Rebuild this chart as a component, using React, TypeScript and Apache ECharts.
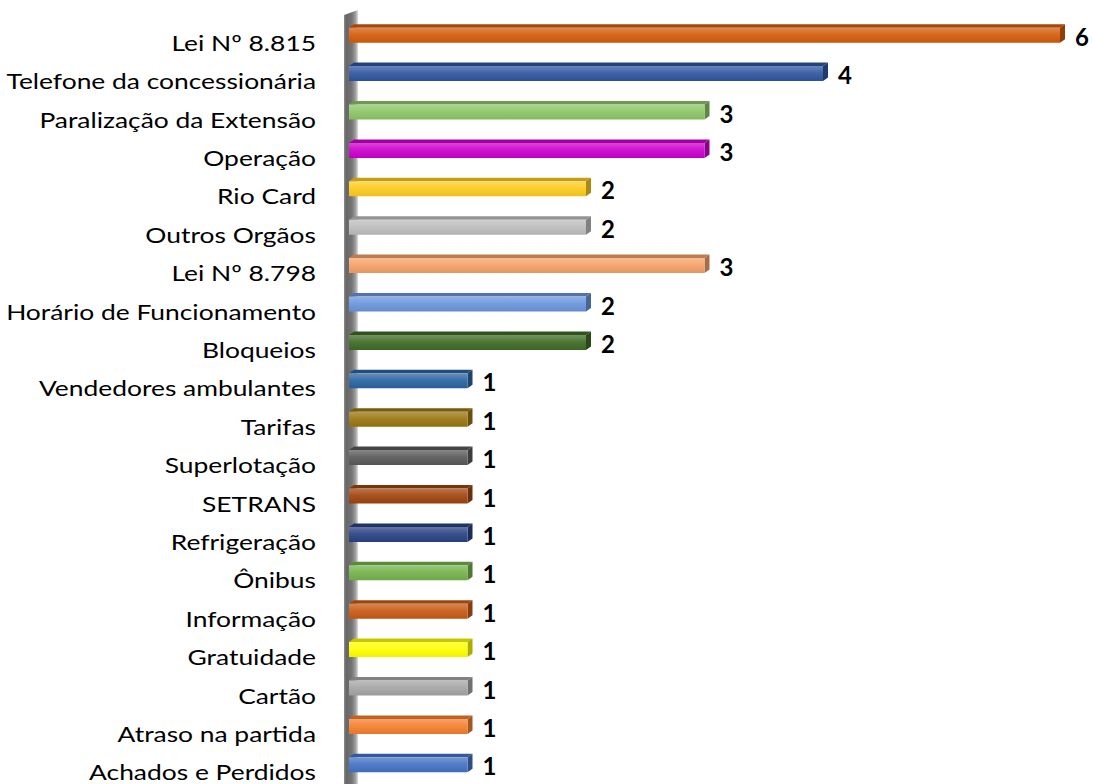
import React, { useEffect, useRef } from "react";
import * as echarts from "echarts";

const categories = [
  "Lei Nº 8.815",
  "Telefone da concessionária",
  "Paralização da Extensão",
  "Operação",
  "Rio Card",
  "Outros Orgãos",
  "Lei Nº 8.798",
  "Horário de Funcionamento",
  "Bloqueios",
  "Vendedores ambulantes",
  "Tarifas",
  "Superlotação",
  "SETRANS",
  "Refrigeração",
  "Ônibus",
  "Informação",
  "Gratuidade",
  "Cartão",
  "Atraso na partida",
  "Achados e Perdidos",
];

const values = [6, 4, 3, 3, 2, 2, 3, 2, 2, 1, 1, 1, 1, 1, 1, 1, 1, 1, 1, 1];

const barColors = [
  "#D35B0B",
  "#2F55A0",
  "#8CC566",
  "#CC00CC",
  "#FCCB1E",
  "#BDBDBD",
  "#F4A068",
  "#6A94DC",
  "#3E6B27",
  "#2A64A0",
  "#9A7511",
  "#595959",
  "#A0430E",
  "#284282",
  "#74B24B",
  "#C85A12",
  "#FFFF00",
  "#A5A5A5",
  "#F47F2E",
  "#4472C4",
];

function shade(hex: string, f: number): string {
  const n = parseInt(hex.slice(1), 16);
  let r = (n >> 16) & 255;
  let g = (n >> 8) & 255;
  let b = n & 255;
  const t = f < 0 ? 0 : 255;
  const p = Math.abs(f);
  r = Math.round((t - r) * p + r);
  g = Math.round((t - g) * p + g);
  b = Math.round((t - b) * p + b);
  return `rgb(${r},${g},${b})`;
}

export default function App() {
  const ref = useRef<HTMLDivElement>(null);

  useEffect(() => {
    if (!ref.current) return;
    const chart = echarts.init(ref.current, null, { renderer: "svg" });
    const data = values.map((v, i) => [i, v]);

    const option: any = {
      animation: false,
      backgroundColor: "#ffffff",
      grid: { left: 349, right: 33, top: 16, height: 772, containLabel: false },
      xAxis: {
        type: "value",
        min: 0,
        max: 6,
        show: false,
      },
      yAxis: {
        type: "category",
        data: categories,
        inverse: true,
        axisLine: { show: false },
        axisTick: { show: false },
        splitLine: { show: false },
        axisLabel: { show: false },
      },
      graphic: [
        {
          type: "polygon",
          z: -10,
          silent: true,
          shape: {
            points: [
              [344, 15],
              [358, 10],
              [358, 784],
              [344, 784],
            ],
          },
          style: {
            fill: new echarts.graphic.LinearGradient(0, 0, 1, 0, [
              { offset: 0, color: "#8e8e8e" },
              { offset: 0.15, color: "#666666" },
              { offset: 0.55, color: "#747474" },
              { offset: 0.8, color: "#9a9a9a" },
              { offset: 1, color: "#dcdcdc" },
            ]),
          },
        },
      ],
      series: [
        {
          type: "custom",
          z: 5,
          data,
          encode: { x: 1, y: 0 },
          renderItem: (params: any, api: any) => {
            const idx = api.value(0);
            const v = api.value(1);
            const p0 = api.coord([0, idx]);
            const p1 = api.coord([v, idx]);
            const cy = p0[1];
            const x0 = p0[0];
            const x1 = p1[0];
            const h = 15;
            const dx = 5;
            const dy = 3.5;
            const yTop = cy - h / 2;
            const yBot = cy + h / 2;
            const c = barColors[idx];
            return {
              type: "group",
              children: [
                {
                  type: "polygon",
                  shape: {
                    points: [
                      [x0, yTop],
                      [x0 + dx, yTop - dy],
                      [x1 + dx, yTop - dy],
                      [x1, yTop],
                    ],
                  },
                  style: { fill: shade(c, -0.22) },
                },
                {
                  type: "polygon",
                  shape: {
                    points: [
                      [x1, yTop],
                      [x1 + dx, yTop - dy],
                      [x1 + dx, yBot - dy],
                      [x1, yBot],
                    ],
                  },
                  style: { fill: shade(c, -0.32) },
                },
                {
                  type: "rect",
                  shape: { x: x0, y: yTop, width: x1 - x0, height: h },
                  style: {
                    fill: new echarts.graphic.LinearGradient(0, 0, 0, 1, [
                      { offset: 0, color: shade(c, 0.28) },
                      { offset: 0.45, color: shade(c, 0.08) },
                      { offset: 1, color: shade(c, -0.06) },
                    ]),
                  },
                },
                {
                  type: "text",
                  x: x1 + dx + 10,
                  y: cy + 1,
                  style: {
                    text: String(v),
                    fill: "#000000",
                    font: "bold 24px Lato",
                    verticalAlign: "middle",
                    align: "left",
                  },
                },
                {
                  type: "text",
                  x: x0 - 33,
                  y: cy + 7,
                  scaleX: 1.2,
                  style: {
                    text: categories[idx],
                    fill: "#000000",
                    font: "22px Lato",
                    verticalAlign: "middle",
                    align: "right",
                  },
                },
              ],
            };
          },
        },
      ],
    };

    chart.setOption(option);
    return () => chart.dispose();
  }, []);

  return (
    <div
      ref={ref}
      style={{ position: "absolute", left: 0, top: 0, width: 1093, height: 784 }}
    />
  );
}
